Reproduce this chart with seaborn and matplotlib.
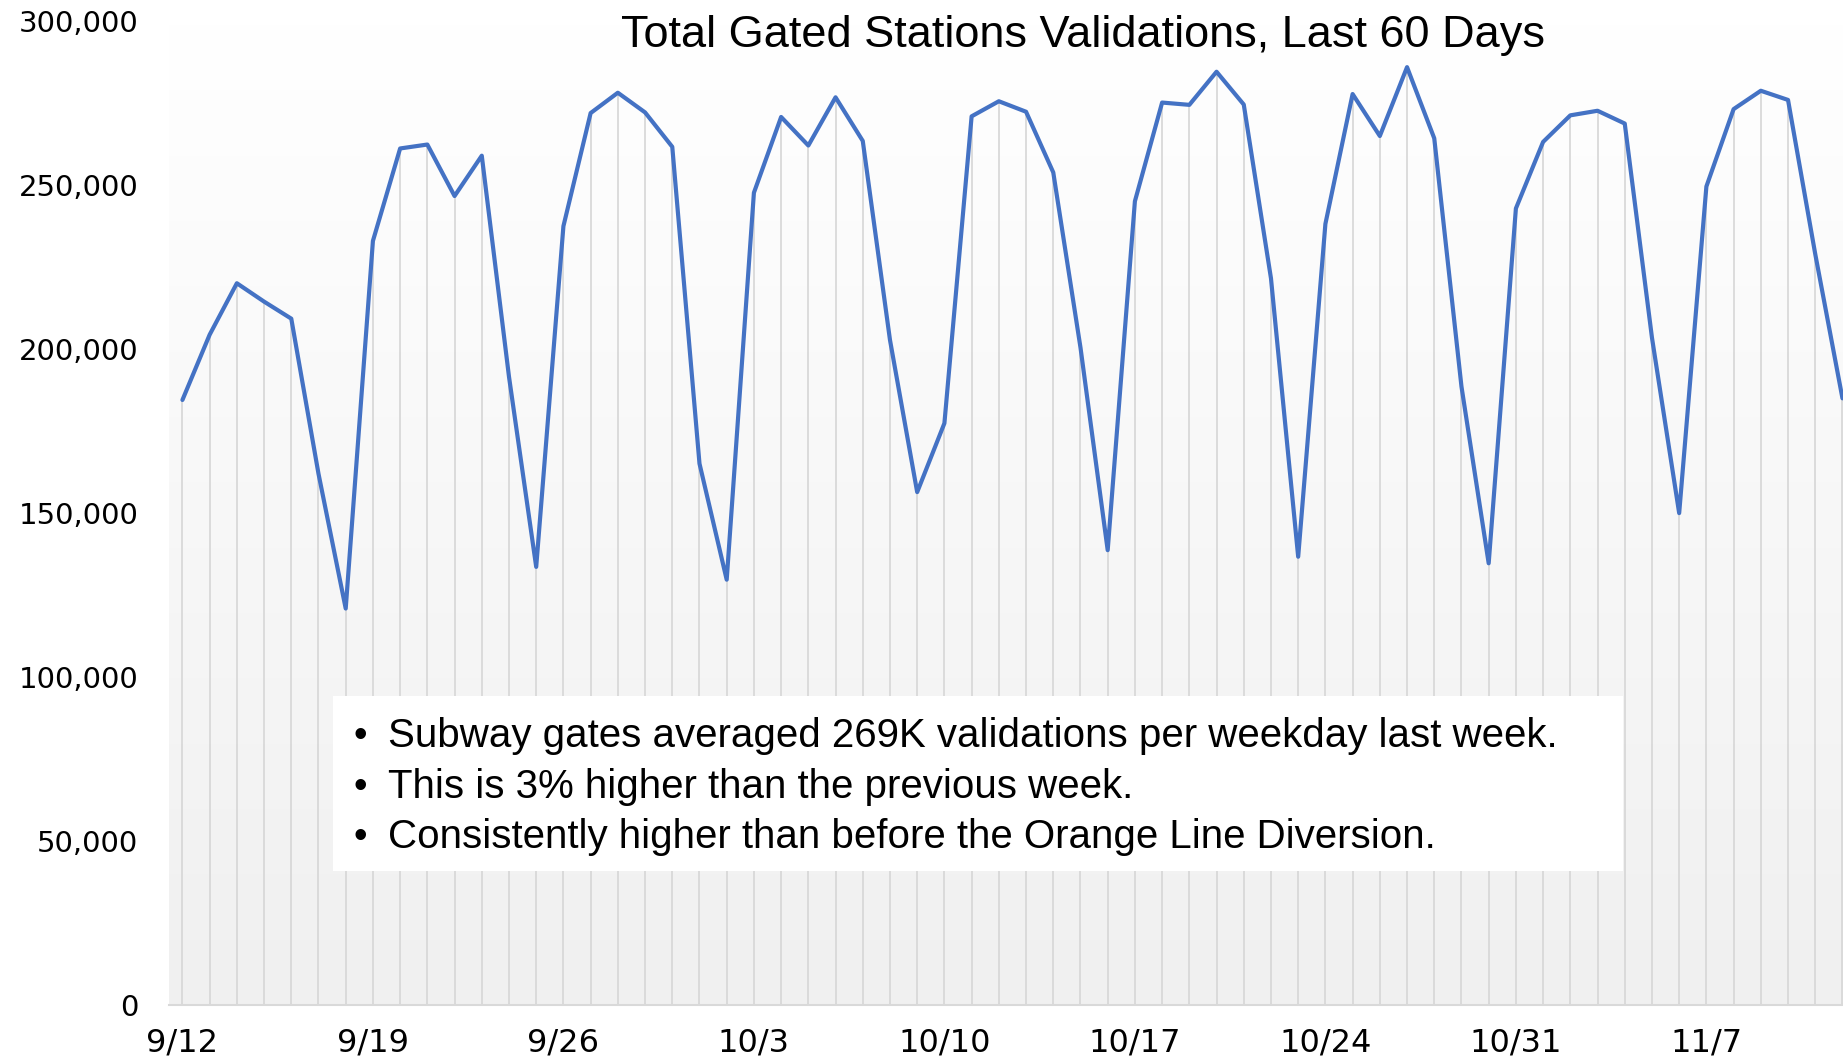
import numpy as np
import pandas as pd
import matplotlib
matplotlib.use("Agg")
import matplotlib.pyplot as plt
import seaborn as sns
from matplotlib.colors import LinearSegmentedColormap
from matplotlib.patches import Rectangle

# daily gated station validations, 9/12 .. 11/12
validations = [
    184500, 204400, 220100, 214500, 209300, 162000, 120900,
    233000, 261200, 262400, 246700, 259000, 191600, 133600,
    237500, 272000, 278200, 272200, 261700, 165100, 129700,
    247700, 270800, 262100, 276800, 263500, 202800, 156400,
    177400, 271000, 275600, 272400, 253900, 200500, 138700,
    245100, 275200, 274500, 284600, 274600, 221600, 136700,
    238200, 277800, 265000, 286000, 264300, 188600, 134700,
    242900, 263200, 271300, 272700, 268800, 203500, 150000,
    249600, 273200, 278800, 276000, 229000, 185000,
]
tick_days = [0, 7, 14, 21, 28, 35, 42, 49, 56]
tick_labels = ["9/12", "9/19", "9/26", "10/3", "10/10", "10/17", "10/24", "10/31", "11/7"]
y_ticks = [0, 50000, 100000, 150000, 200000, 250000, 300000]

title = "Total Gated Stations Validations, Last 60 Days"
notes = [
    "Subway gates averaged 269K validations per weekday last week.",
    "This is 3% higher than the previous week.",
    "Consistently higher than before the Orange Line Diversion.",
]

sns.set_style("white")
plt.rcParams["font.family"] = ["Liberation Sans", "DejaVu Sans"]
plt.rcParams["text.color"] = "black"
plt.rcParams["xtick.color"] = "black"
plt.rcParams["ytick.color"] = "black"

df = pd.DataFrame({"day": np.arange(len(validations)), "validations": validations})

fig = plt.figure(figsize=(18.43, 10.62), dpi=100)
ax = fig.add_axes([0.0916, 0.0537, 0.9084, 0.9263])

x_right = 61.02
# plot area background: white at top fading to light grey
bg = LinearSegmentedColormap.from_list("bg", ["#ffffff", "#f0f0f0"])
ax.imshow(np.linspace(0, 1, 256).reshape(-1, 1), cmap=bg, aspect="auto",
          extent=[-0.5, x_right, 0, 300000], origin="upper", zorder=0)

# drop lines + main line
ax.vlines(df["day"], 0, df["validations"], color="#d6d6d6", lw=1.2, zorder=1)
sns.lineplot(data=df, x="day", y="validations", color="#4472C4", lw=3.0, ax=ax, zorder=3)

ax.set_xlim(-0.5, x_right)
ax.set_ylim(0, 300000)

for s in ["top", "right", "left"]:
    ax.spines[s].set_visible(False)
ax.spines["bottom"].set_color("#d9d9d9")
ax.spines["bottom"].set_linewidth(1.5)

ax.set_yticks(y_ticks)
ax.set_yticklabels([f"{v:,}" for v in y_ticks], fontfamily="DejaVu Sans")
ax.tick_params(axis="y", length=0, pad=22, labelsize=21, labelcolor="black")

ax.set_xticks(tick_days)
ax.set_xticklabels(tick_labels, fontfamily="DejaVu Sans")
ax.set_xticks(np.arange(-0.5, x_right, 7), minor=True)
ax.tick_params(axis="x", which="major", length=0, pad=16, labelsize=23, labelcolor="black")
ax.tick_params(axis="x", which="minor", length=6, width=1.2, color="#d9d9d9")
ax.set_xlabel("")
ax.set_ylabel("")

# note box
ax.add_patch(Rectangle((0.0978, 0.1362), 0.771, 0.1781, transform=ax.transAxes,
                       facecolor="white", edgecolor="none", zorder=4))
for yy, line in zip([0.2626, 0.2101, 0.1593], notes):
    ax.text(0.1142, yy, "\u2022", transform=ax.transAxes, ha="center", va="baseline",
            fontsize=28, color="black", zorder=5)
    ax.text(0.1311, yy, line, transform=ax.transAxes, ha="left", va="baseline",
            fontsize=29, color="black", zorder=5)

fig.text(0.5874, 0.9557, title, ha="center", va="baseline", fontsize=32.5, color="black")

fig.savefig("out.png", dpi=100)
